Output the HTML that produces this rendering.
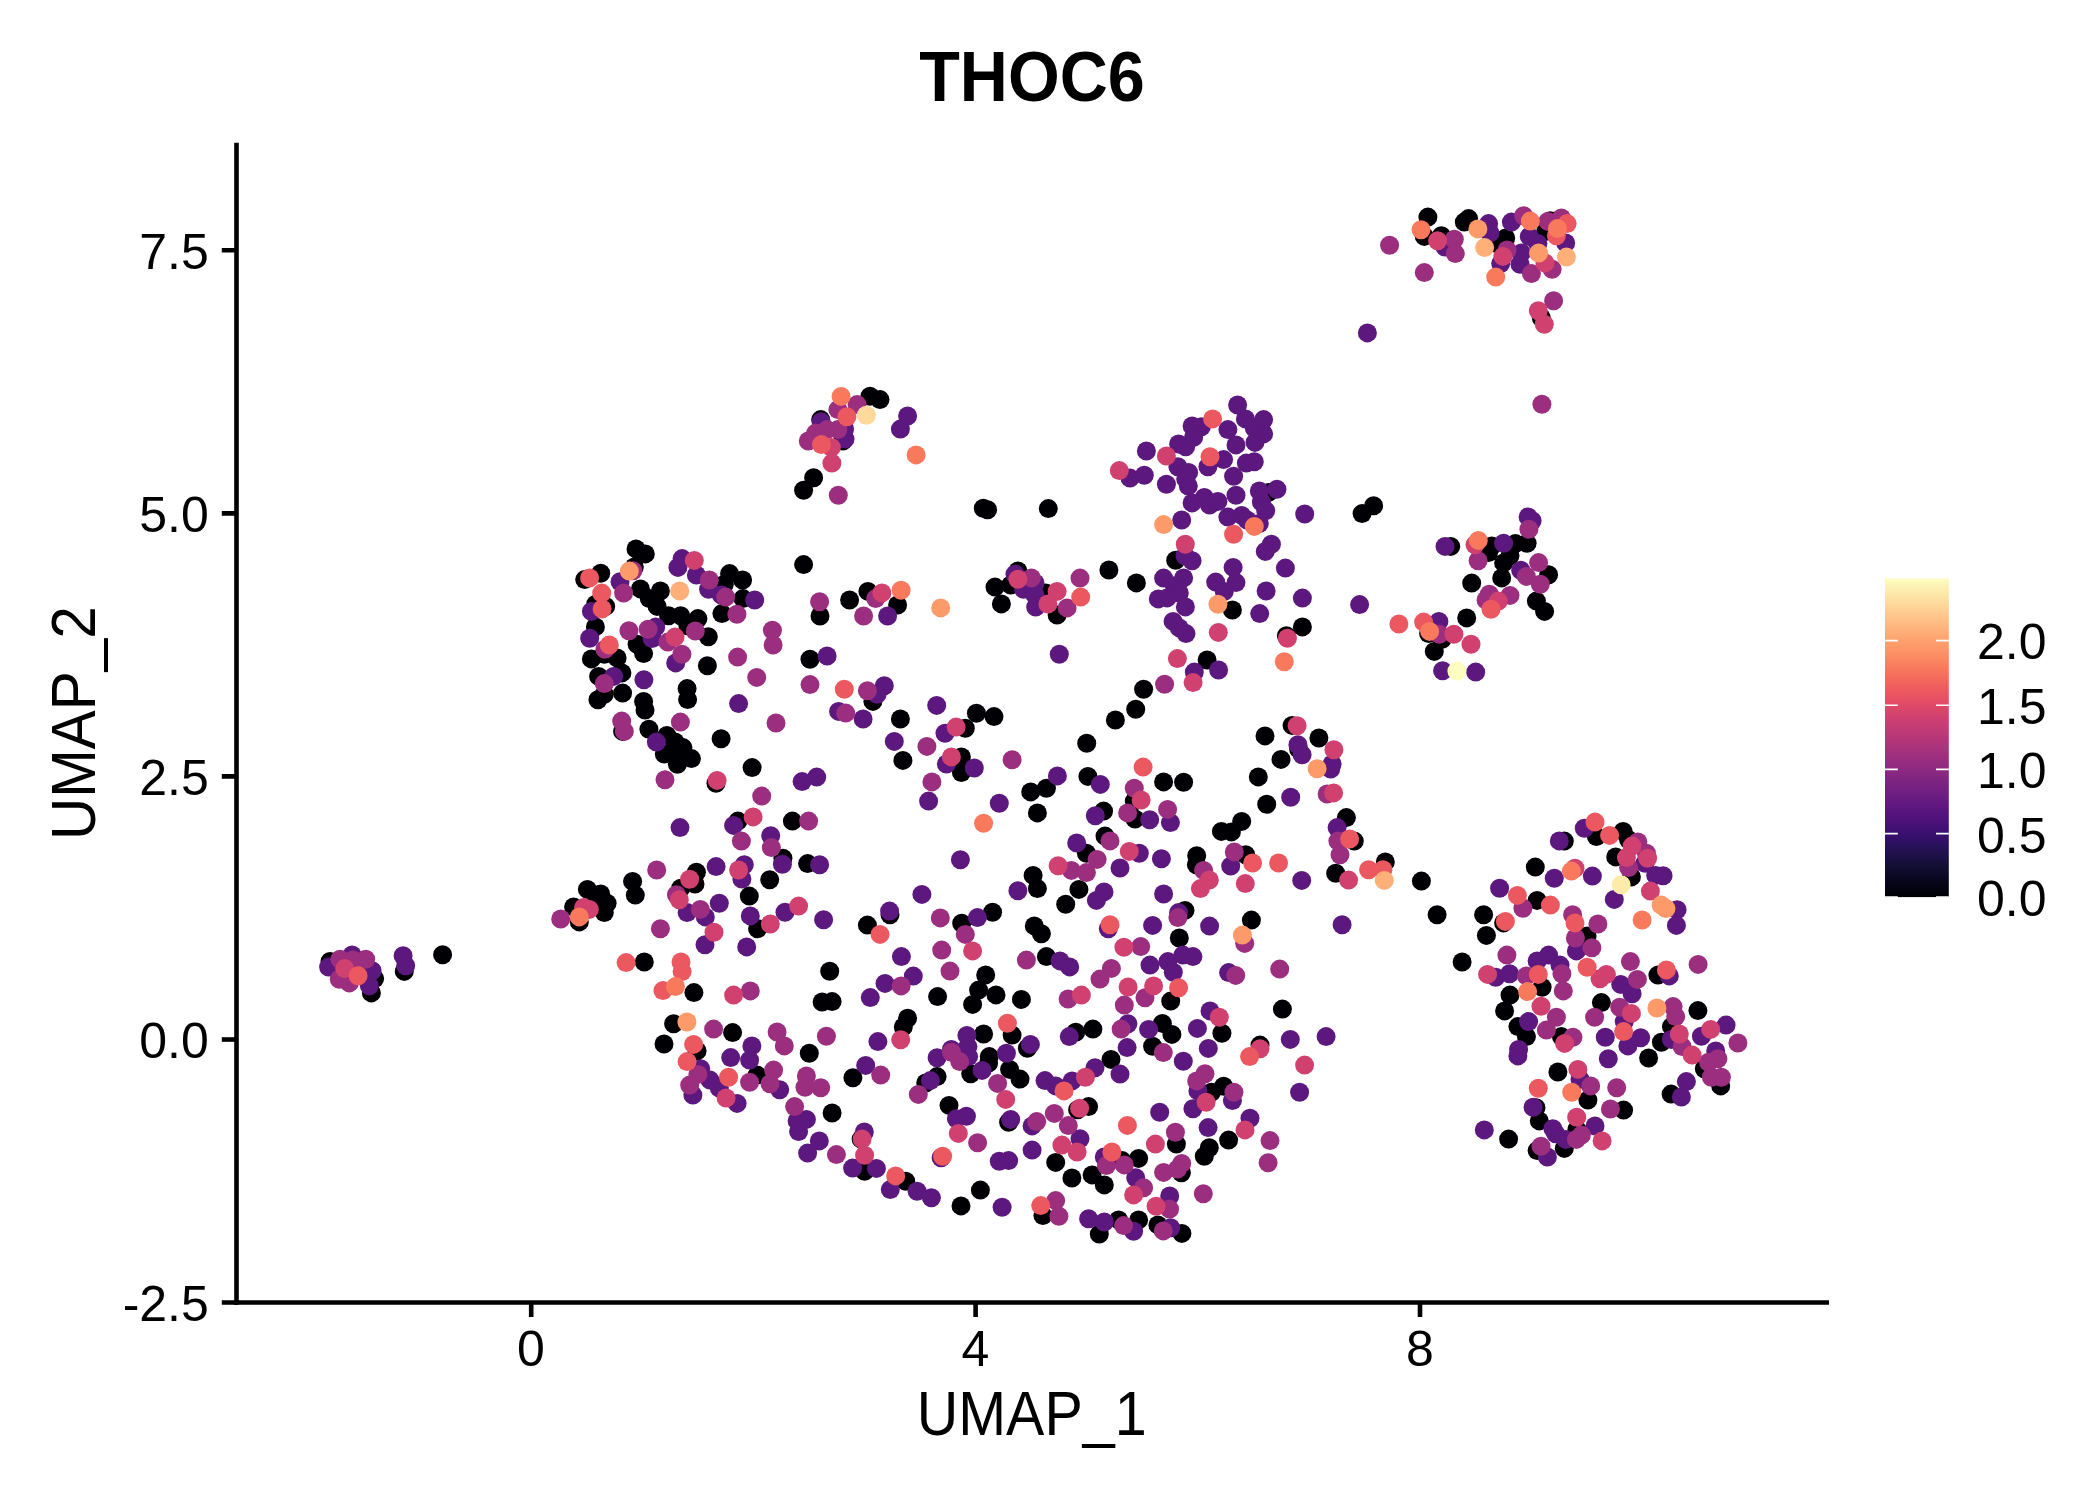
<!DOCTYPE html>
<html><head><meta charset="utf-8"><title>THOC6</title>
<style>
html,body{margin:0;padding:0;background:#fff;}
svg{display:block;}
text{font-family:"Liberation Sans",sans-serif;fill:#000;}
</style></head>
<body>
<svg width="2100" height="1500" viewBox="0 0 2100 1500">
<defs>
<linearGradient id="mg" x1="0" y1="1" x2="0" y2="0">
<stop offset="0" stop-color="#000004"/>
<stop offset="0.05" stop-color="#07061c"/>
<stop offset="0.1" stop-color="#140e36"/>
<stop offset="0.15" stop-color="#251255"/>
<stop offset="0.2" stop-color="#3b0f70"/>
<stop offset="0.25" stop-color="#51127c"/>
<stop offset="0.3" stop-color="#641a80"/>
<stop offset="0.35" stop-color="#782281"/>
<stop offset="0.4" stop-color="#8c2981"/>
<stop offset="0.45" stop-color="#a1307e"/>
<stop offset="0.5" stop-color="#b73779"/>
<stop offset="0.55" stop-color="#ca3e72"/>
<stop offset="0.6" stop-color="#de4968"/>
<stop offset="0.65" stop-color="#ed5a5f"/>
<stop offset="0.7" stop-color="#f7705c"/>
<stop offset="0.75" stop-color="#fc8961"/>
<stop offset="0.8" stop-color="#fe9f6d"/>
<stop offset="0.85" stop-color="#feb77e"/>
<stop offset="0.9" stop-color="#fecf92"/>
<stop offset="0.95" stop-color="#fde7a9"/>
<stop offset="1" stop-color="#fcfdbf"/>
</linearGradient>
</defs>
<rect width="2100" height="1500" fill="#fff"/>
<text x="919.2" y="100.8" font-size="70" font-weight="bold" textLength="225.5" lengthAdjust="spacingAndGlyphs">THOC6</text>
<g fill="#000004">
<circle cx="636.0" cy="548.9" r="9.5"/>
<circle cx="645.3" cy="553.9" r="9.5"/>
<circle cx="634.3" cy="566.9" r="9.5"/>
<circle cx="600.7" cy="573.3" r="9.5"/>
<circle cx="584.7" cy="579.6" r="9.5"/>
<circle cx="640.4" cy="588.9" r="9.5"/>
<circle cx="660.4" cy="591.0" r="9.5"/>
<circle cx="649.3" cy="598.6" r="9.5"/>
<circle cx="657.1" cy="606.4" r="9.5"/>
<circle cx="668.6" cy="615.7" r="9.5"/>
<circle cx="680.7" cy="615.7" r="9.5"/>
<circle cx="697.9" cy="618.6" r="9.5"/>
<circle cx="687.9" cy="625.7" r="9.5"/>
<circle cx="729.6" cy="573.6" r="9.5"/>
<circle cx="742.6" cy="580.0" r="9.5"/>
<circle cx="724.3" cy="584.3" r="9.5"/>
<circle cx="742.9" cy="598.6" r="9.5"/>
<circle cx="721.9" cy="613.6" r="9.5"/>
<circle cx="803.6" cy="564.6" r="9.5"/>
<circle cx="820.0" cy="616.0" r="9.5"/>
<circle cx="708.3" cy="636.7" r="9.5"/>
<circle cx="605.7" cy="606.4" r="9.5"/>
<circle cx="595.7" cy="604.3" r="9.5"/>
<circle cx="595.4" cy="626.9" r="9.5"/>
<circle cx="591.4" cy="658.9" r="9.5"/>
<circle cx="617.1" cy="657.9" r="9.5"/>
<circle cx="604.3" cy="654.3" r="9.5"/>
<circle cx="621.9" cy="672.9" r="9.5"/>
<circle cx="598.6" cy="676.4" r="9.5"/>
<circle cx="622.6" cy="693.1" r="9.5"/>
<circle cx="597.9" cy="699.7" r="9.5"/>
<circle cx="604.3" cy="694.3" r="9.5"/>
<circle cx="637.1" cy="644.3" r="9.5"/>
<circle cx="643.6" cy="653.6" r="9.5"/>
<circle cx="707.4" cy="665.7" r="9.5"/>
<circle cx="687.1" cy="688.6" r="9.5"/>
<circle cx="687.6" cy="699.6" r="9.5"/>
<circle cx="643.6" cy="701.4" r="9.5"/>
<circle cx="645.0" cy="710.0" r="9.5"/>
<circle cx="810.0" cy="659.3" r="9.5"/>
<circle cx="983.3" cy="508.3" r="9.5"/>
<circle cx="987.6" cy="509.7" r="9.5"/>
<circle cx="1048.3" cy="508.6" r="9.5"/>
<circle cx="849.6" cy="600.0" r="9.5"/>
<circle cx="867.9" cy="591.4" r="9.5"/>
<circle cx="897.6" cy="605.0" r="9.5"/>
<circle cx="995.0" cy="587.1" r="9.5"/>
<circle cx="1017.9" cy="571.0" r="9.5"/>
<circle cx="1010.7" cy="585.0" r="9.5"/>
<circle cx="1001.4" cy="603.9" r="9.5"/>
<circle cx="1045.7" cy="592.9" r="9.5"/>
<circle cx="1057.1" cy="615.0" r="9.5"/>
<circle cx="1108.9" cy="570.0" r="9.5"/>
<circle cx="1136.4" cy="582.9" r="9.5"/>
<circle cx="872.9" cy="701.4" r="9.5"/>
<circle cx="976.4" cy="713.3" r="9.5"/>
<circle cx="1135.7" cy="709.3" r="9.5"/>
<circle cx="1362.1" cy="513.6" r="9.5"/>
<circle cx="1373.6" cy="505.7" r="9.5"/>
<circle cx="1175.7" cy="560.3" r="9.5"/>
<circle cx="1232.4" cy="610.0" r="9.5"/>
<circle cx="1302.4" cy="626.9" r="9.5"/>
<circle cx="1286.4" cy="635.7" r="9.5"/>
<circle cx="1207.1" cy="660.0" r="9.5"/>
<circle cx="1143.6" cy="689.3" r="9.5"/>
<circle cx="1428.6" cy="633.6" r="9.5"/>
<circle cx="1434.3" cy="651.4" r="9.5"/>
<circle cx="1450.7" cy="546.4" r="9.5"/>
<circle cx="1491.7" cy="546.0" r="9.5"/>
<circle cx="1488.6" cy="552.6" r="9.5"/>
<circle cx="1515.4" cy="543.6" r="9.5"/>
<circle cx="1527.1" cy="543.3" r="9.5"/>
<circle cx="1510.0" cy="555.7" r="9.5"/>
<circle cx="1503.6" cy="562.9" r="9.5"/>
<circle cx="1501.7" cy="577.9" r="9.5"/>
<circle cx="1471.7" cy="583.1" r="9.5"/>
<circle cx="1548.6" cy="574.7" r="9.5"/>
<circle cx="1536.4" cy="601.1" r="9.5"/>
<circle cx="1544.6" cy="611.4" r="9.5"/>
<circle cx="1466.7" cy="617.9" r="9.5"/>
<circle cx="1442.1" cy="639.3" r="9.5"/>
<circle cx="622.6" cy="731.4" r="9.5"/>
<circle cx="648.9" cy="729.3" r="9.5"/>
<circle cx="666.9" cy="735.4" r="9.5"/>
<circle cx="675.0" cy="741.9" r="9.5"/>
<circle cx="682.9" cy="747.6" r="9.5"/>
<circle cx="664.3" cy="754.0" r="9.5"/>
<circle cx="676.4" cy="755.4" r="9.5"/>
<circle cx="691.4" cy="758.6" r="9.5"/>
<circle cx="677.4" cy="764.3" r="9.5"/>
<circle cx="721.1" cy="738.7" r="9.5"/>
<circle cx="752.1" cy="767.6" r="9.5"/>
<circle cx="716.0" cy="783.3" r="9.5"/>
<circle cx="737.9" cy="821.1" r="9.5"/>
<circle cx="792.4" cy="821.1" r="9.5"/>
<circle cx="782.9" cy="858.3" r="9.5"/>
<circle cx="807.6" cy="863.6" r="9.5"/>
<circle cx="696.4" cy="872.3" r="9.5"/>
<circle cx="695.0" cy="884.0" r="9.5"/>
<circle cx="680.7" cy="888.3" r="9.5"/>
<circle cx="769.7" cy="879.7" r="9.5"/>
<circle cx="749.3" cy="896.1" r="9.5"/>
<circle cx="632.6" cy="881.4" r="9.5"/>
<circle cx="635.3" cy="895.1" r="9.5"/>
<circle cx="587.4" cy="889.4" r="9.5"/>
<circle cx="600.7" cy="894.0" r="9.5"/>
<circle cx="607.1" cy="903.3" r="9.5"/>
<circle cx="604.3" cy="912.6" r="9.5"/>
<circle cx="597.1" cy="899.7" r="9.5"/>
<circle cx="573.6" cy="906.9" r="9.5"/>
<circle cx="579.3" cy="921.9" r="9.5"/>
<circle cx="900.4" cy="719.0" r="9.5"/>
<circle cx="994.0" cy="716.6" r="9.5"/>
<circle cx="1115.4" cy="720.0" r="9.5"/>
<circle cx="965.3" cy="728.3" r="9.5"/>
<circle cx="902.9" cy="760.4" r="9.5"/>
<circle cx="961.4" cy="756.9" r="9.5"/>
<circle cx="961.4" cy="772.6" r="9.5"/>
<circle cx="1086.7" cy="743.3" r="9.5"/>
<circle cx="1087.9" cy="776.4" r="9.5"/>
<circle cx="1030.7" cy="791.9" r="9.5"/>
<circle cx="1046.4" cy="788.3" r="9.5"/>
<circle cx="1037.4" cy="812.9" r="9.5"/>
<circle cx="1103.6" cy="811.1" r="9.5"/>
<circle cx="1134.3" cy="801.1" r="9.5"/>
<circle cx="1135.0" cy="819.0" r="9.5"/>
<circle cx="1105.0" cy="836.1" r="9.5"/>
<circle cx="1086.4" cy="853.3" r="9.5"/>
<circle cx="1033.1" cy="875.4" r="9.5"/>
<circle cx="1037.4" cy="888.6" r="9.5"/>
<circle cx="1078.9" cy="889.4" r="9.5"/>
<circle cx="1065.7" cy="904.3" r="9.5"/>
<circle cx="992.6" cy="912.3" r="9.5"/>
<circle cx="890.0" cy="914.7" r="9.5"/>
<circle cx="867.4" cy="925.1" r="9.5"/>
<circle cx="961.7" cy="923.3" r="9.5"/>
<circle cx="1034.3" cy="925.9" r="9.5"/>
<circle cx="1163.6" cy="781.9" r="9.5"/>
<circle cx="1183.6" cy="782.3" r="9.5"/>
<circle cx="1265.0" cy="735.9" r="9.5"/>
<circle cx="1292.1" cy="725.4" r="9.5"/>
<circle cx="1318.9" cy="738.0" r="9.5"/>
<circle cx="1298.6" cy="749.0" r="9.5"/>
<circle cx="1281.0" cy="759.4" r="9.5"/>
<circle cx="1258.3" cy="776.9" r="9.5"/>
<circle cx="1266.7" cy="804.3" r="9.5"/>
<circle cx="1241.7" cy="821.4" r="9.5"/>
<circle cx="1221.4" cy="831.4" r="9.5"/>
<circle cx="1231.4" cy="831.9" r="9.5"/>
<circle cx="1346.4" cy="817.6" r="9.5"/>
<circle cx="1354.3" cy="841.1" r="9.5"/>
<circle cx="1196.7" cy="855.7" r="9.5"/>
<circle cx="1196.4" cy="864.7" r="9.5"/>
<circle cx="1245.7" cy="854.7" r="9.5"/>
<circle cx="1385.3" cy="861.9" r="9.5"/>
<circle cx="1335.7" cy="873.3" r="9.5"/>
<circle cx="1421.4" cy="881.1" r="9.5"/>
<circle cx="1185.0" cy="910.4" r="9.5"/>
<circle cx="1251.4" cy="920.1" r="9.5"/>
<circle cx="1437.1" cy="914.7" r="9.5"/>
<circle cx="1564.3" cy="841.1" r="9.5"/>
<circle cx="1623.1" cy="831.4" r="9.5"/>
<circle cx="1596.4" cy="836.6" r="9.5"/>
<circle cx="1628.6" cy="839.7" r="9.5"/>
<circle cx="1615.7" cy="856.9" r="9.5"/>
<circle cx="1535.3" cy="867.1" r="9.5"/>
<circle cx="1631.4" cy="876.9" r="9.5"/>
<circle cx="1537.1" cy="900.4" r="9.5"/>
<circle cx="1483.6" cy="914.7" r="9.5"/>
<circle cx="1503.6" cy="922.9" r="9.5"/>
<circle cx="757.6" cy="928.7" r="9.5"/>
<circle cx="644.3" cy="962.0" r="9.5"/>
<circle cx="693.9" cy="992.6" r="9.5"/>
<circle cx="829.7" cy="971.3" r="9.5"/>
<circle cx="822.1" cy="1002.0" r="9.5"/>
<circle cx="832.1" cy="1001.6" r="9.5"/>
<circle cx="673.6" cy="1023.7" r="9.5"/>
<circle cx="664.0" cy="1044.0" r="9.5"/>
<circle cx="732.6" cy="1032.6" r="9.5"/>
<circle cx="697.1" cy="1050.9" r="9.5"/>
<circle cx="809.3" cy="1053.3" r="9.5"/>
<circle cx="757.1" cy="1075.1" r="9.5"/>
<circle cx="832.1" cy="1113.0" r="9.5"/>
<circle cx="1041.4" cy="933.7" r="9.5"/>
<circle cx="985.7" cy="974.9" r="9.5"/>
<circle cx="978.6" cy="990.1" r="9.5"/>
<circle cx="996.0" cy="994.9" r="9.5"/>
<circle cx="972.6" cy="1004.4" r="9.5"/>
<circle cx="937.6" cy="996.6" r="9.5"/>
<circle cx="1021.4" cy="999.4" r="9.5"/>
<circle cx="907.6" cy="1018.3" r="9.5"/>
<circle cx="903.3" cy="1026.9" r="9.5"/>
<circle cx="983.6" cy="1034.0" r="9.5"/>
<circle cx="1012.1" cy="1035.1" r="9.5"/>
<circle cx="1027.4" cy="1048.3" r="9.5"/>
<circle cx="1075.7" cy="1032.3" r="9.5"/>
<circle cx="1092.9" cy="1029.1" r="9.5"/>
<circle cx="989.3" cy="1056.6" r="9.5"/>
<circle cx="988.6" cy="1063.0" r="9.5"/>
<circle cx="1009.6" cy="1069.4" r="9.5"/>
<circle cx="1020.0" cy="1079.1" r="9.5"/>
<circle cx="970.7" cy="1073.7" r="9.5"/>
<circle cx="1111.0" cy="1059.4" r="9.5"/>
<circle cx="937.1" cy="1076.6" r="9.5"/>
<circle cx="925.7" cy="1083.0" r="9.5"/>
<circle cx="852.9" cy="1077.7" r="9.5"/>
<circle cx="949.0" cy="1105.4" r="9.5"/>
<circle cx="1046.4" cy="956.6" r="9.5"/>
<circle cx="1088.6" cy="1106.6" r="9.5"/>
<circle cx="1077.6" cy="1109.7" r="9.5"/>
<circle cx="1008.6" cy="1122.3" r="9.5"/>
<circle cx="861.1" cy="1139.1" r="9.5"/>
<circle cx="1179.3" cy="938.0" r="9.5"/>
<circle cx="1170.7" cy="1001.1" r="9.5"/>
<circle cx="1282.4" cy="1009.1" r="9.5"/>
<circle cx="1162.4" cy="1023.4" r="9.5"/>
<circle cx="1171.9" cy="1034.4" r="9.5"/>
<circle cx="1152.6" cy="1046.3" r="9.5"/>
<circle cx="1221.9" cy="1033.3" r="9.5"/>
<circle cx="1260.0" cy="1045.1" r="9.5"/>
<circle cx="1223.6" cy="1086.3" r="9.5"/>
<circle cx="1211.4" cy="1092.3" r="9.5"/>
<circle cx="1228.6" cy="1140.1" r="9.5"/>
<circle cx="1486.4" cy="935.4" r="9.5"/>
<circle cx="1587.1" cy="935.9" r="9.5"/>
<circle cx="1462.1" cy="962.0" r="9.5"/>
<circle cx="1657.9" cy="975.1" r="9.5"/>
<circle cx="1510.0" cy="995.1" r="9.5"/>
<circle cx="1504.6" cy="1010.9" r="9.5"/>
<circle cx="1542.1" cy="987.3" r="9.5"/>
<circle cx="1601.4" cy="1002.6" r="9.5"/>
<circle cx="1697.9" cy="1010.6" r="9.5"/>
<circle cx="1517.9" cy="1026.6" r="9.5"/>
<circle cx="1526.4" cy="1036.6" r="9.5"/>
<circle cx="1561.4" cy="1036.6" r="9.5"/>
<circle cx="1671.4" cy="1026.6" r="9.5"/>
<circle cx="1661.4" cy="1042.3" r="9.5"/>
<circle cx="1648.6" cy="1058.0" r="9.5"/>
<circle cx="1557.9" cy="1072.0" r="9.5"/>
<circle cx="1704.3" cy="1068.7" r="9.5"/>
<circle cx="1720.7" cy="1085.9" r="9.5"/>
<circle cx="1671.1" cy="1094.1" r="9.5"/>
<circle cx="1587.9" cy="1100.1" r="9.5"/>
<circle cx="1623.6" cy="1110.1" r="9.5"/>
<circle cx="1536.0" cy="1107.7" r="9.5"/>
<circle cx="1539.3" cy="1120.9" r="9.5"/>
<circle cx="1508.6" cy="1139.1" r="9.5"/>
<circle cx="1576.9" cy="1129.4" r="9.5"/>
<circle cx="813.6" cy="477.7" r="9.5"/>
<circle cx="803.6" cy="490.3" r="9.5"/>
<circle cx="820.7" cy="419.6" r="9.5"/>
<circle cx="870.0" cy="396.3" r="9.5"/>
<circle cx="880.0" cy="399.6" r="9.5"/>
<circle cx="842.9" cy="441.0" r="9.5"/>
<circle cx="1268.6" cy="492.4" r="9.5"/>
<circle cx="1427.9" cy="217.1" r="9.5"/>
<circle cx="1424.3" cy="236.4" r="9.5"/>
<circle cx="1441.4" cy="235.7" r="9.5"/>
<circle cx="1464.3" cy="222.1" r="9.5"/>
<circle cx="1468.6" cy="218.6" r="9.5"/>
<circle cx="1505.7" cy="237.9" r="9.5"/>
<circle cx="1496.4" cy="243.6" r="9.5"/>
<circle cx="1545.7" cy="231.4" r="9.5"/>
<circle cx="1550.3" cy="220.7" r="9.5"/>
<circle cx="1541.4" cy="317.9" r="9.5"/>
<circle cx="330.0" cy="961.4" r="9.5"/>
<circle cx="442.6" cy="954.7" r="9.5"/>
<circle cx="404.3" cy="971.4" r="9.5"/>
<circle cx="371.4" cy="992.9" r="9.5"/>
<circle cx="374.6" cy="978.6" r="9.5"/>
<circle cx="864.6" cy="1171.3" r="9.5"/>
<circle cx="905.7" cy="1181.3" r="9.5"/>
<circle cx="980.4" cy="1190.1" r="9.5"/>
<circle cx="961.0" cy="1205.9" r="9.5"/>
<circle cx="1055.7" cy="1162.4" r="9.5"/>
<circle cx="1071.9" cy="1178.0" r="9.5"/>
<circle cx="1092.1" cy="1174.9" r="9.5"/>
<circle cx="1104.3" cy="1184.9" r="9.5"/>
<circle cx="1122.1" cy="1160.6" r="9.5"/>
<circle cx="1138.6" cy="1158.4" r="9.5"/>
<circle cx="1042.9" cy="1215.6" r="9.5"/>
<circle cx="1099.3" cy="1234.1" r="9.5"/>
<circle cx="1118.6" cy="1219.9" r="9.5"/>
<circle cx="1138.6" cy="1219.9" r="9.5"/>
<circle cx="1176.4" cy="1144.1" r="9.5"/>
<circle cx="1209.3" cy="1147.7" r="9.5"/>
<circle cx="1204.3" cy="1156.3" r="9.5"/>
<circle cx="1181.4" cy="1172.7" r="9.5"/>
<circle cx="1157.9" cy="1224.9" r="9.5"/>
<circle cx="1181.9" cy="1233.4" r="9.5"/>
<circle cx="1537.1" cy="1150.6" r="9.5"/>
<circle cx="1564.3" cy="1148.4" r="9.5"/>
</g>
<g fill="#5c187e">
<circle cx="682.1" cy="558.6" r="9.5"/>
<circle cx="677.9" cy="567.4" r="9.5"/>
<circle cx="696.4" cy="575.0" r="9.5"/>
<circle cx="708.6" cy="589.3" r="9.5"/>
<circle cx="721.4" cy="595.0" r="9.5"/>
<circle cx="620.0" cy="581.7" r="9.5"/>
<circle cx="754.7" cy="600.0" r="9.5"/>
<circle cx="591.4" cy="611.4" r="9.5"/>
<circle cx="589.7" cy="638.3" r="9.5"/>
<circle cx="655.7" cy="627.1" r="9.5"/>
<circle cx="652.1" cy="638.6" r="9.5"/>
<circle cx="675.7" cy="662.9" r="9.5"/>
<circle cx="613.6" cy="676.4" r="9.5"/>
<circle cx="643.9" cy="679.7" r="9.5"/>
<circle cx="827.1" cy="656.0" r="9.5"/>
<circle cx="738.6" cy="703.6" r="9.5"/>
<circle cx="838.6" cy="711.4" r="9.5"/>
<circle cx="1015.0" cy="574.3" r="9.5"/>
<circle cx="1035.0" cy="582.9" r="9.5"/>
<circle cx="1023.6" cy="589.3" r="9.5"/>
<circle cx="1035.0" cy="595.0" r="9.5"/>
<circle cx="1035.7" cy="607.1" r="9.5"/>
<circle cx="887.6" cy="616.0" r="9.5"/>
<circle cx="1059.3" cy="654.3" r="9.5"/>
<circle cx="884.3" cy="685.7" r="9.5"/>
<circle cx="877.1" cy="694.3" r="9.5"/>
<circle cx="936.7" cy="705.4" r="9.5"/>
<circle cx="1192.1" cy="502.9" r="9.5"/>
<circle cx="1209.6" cy="505.0" r="9.5"/>
<circle cx="1217.9" cy="501.4" r="9.5"/>
<circle cx="1227.9" cy="517.1" r="9.5"/>
<circle cx="1241.7" cy="515.4" r="9.5"/>
<circle cx="1247.1" cy="520.0" r="9.5"/>
<circle cx="1261.4" cy="502.1" r="9.5"/>
<circle cx="1265.7" cy="510.7" r="9.5"/>
<circle cx="1259.3" cy="523.6" r="9.5"/>
<circle cx="1181.7" cy="520.0" r="9.5"/>
<circle cx="1304.7" cy="514.0" r="9.5"/>
<circle cx="1271.4" cy="544.3" r="9.5"/>
<circle cx="1265.3" cy="551.4" r="9.5"/>
<circle cx="1185.0" cy="555.7" r="9.5"/>
<circle cx="1192.1" cy="560.7" r="9.5"/>
<circle cx="1233.1" cy="567.4" r="9.5"/>
<circle cx="1285.4" cy="568.1" r="9.5"/>
<circle cx="1163.6" cy="578.1" r="9.5"/>
<circle cx="1183.6" cy="577.9" r="9.5"/>
<circle cx="1174.3" cy="585.7" r="9.5"/>
<circle cx="1215.7" cy="582.1" r="9.5"/>
<circle cx="1236.0" cy="582.6" r="9.5"/>
<circle cx="1224.3" cy="591.4" r="9.5"/>
<circle cx="1266.1" cy="591.0" r="9.5"/>
<circle cx="1158.3" cy="598.9" r="9.5"/>
<circle cx="1167.1" cy="597.9" r="9.5"/>
<circle cx="1179.3" cy="592.9" r="9.5"/>
<circle cx="1185.4" cy="606.9" r="9.5"/>
<circle cx="1302.4" cy="598.1" r="9.5"/>
<circle cx="1259.7" cy="613.6" r="9.5"/>
<circle cx="1359.6" cy="604.6" r="9.5"/>
<circle cx="1173.1" cy="621.4" r="9.5"/>
<circle cx="1179.3" cy="627.9" r="9.5"/>
<circle cx="1186.0" cy="633.6" r="9.5"/>
<circle cx="1194.3" cy="672.1" r="9.5"/>
<circle cx="1218.6" cy="670.0" r="9.5"/>
<circle cx="1528.1" cy="516.9" r="9.5"/>
<circle cx="1532.1" cy="520.7" r="9.5"/>
<circle cx="1503.6" cy="543.3" r="9.5"/>
<circle cx="1445.0" cy="546.4" r="9.5"/>
<circle cx="1520.7" cy="570.3" r="9.5"/>
<circle cx="1438.9" cy="621.4" r="9.5"/>
<circle cx="1442.6" cy="670.7" r="9.5"/>
<circle cx="1475.7" cy="672.1" r="9.5"/>
<circle cx="656.4" cy="742.1" r="9.5"/>
<circle cx="802.1" cy="781.6" r="9.5"/>
<circle cx="816.7" cy="777.1" r="9.5"/>
<circle cx="680.0" cy="827.6" r="9.5"/>
<circle cx="733.6" cy="825.4" r="9.5"/>
<circle cx="770.7" cy="835.7" r="9.5"/>
<circle cx="716.1" cy="866.6" r="9.5"/>
<circle cx="744.3" cy="864.7" r="9.5"/>
<circle cx="741.9" cy="879.0" r="9.5"/>
<circle cx="782.4" cy="864.3" r="9.5"/>
<circle cx="819.6" cy="864.7" r="9.5"/>
<circle cx="719.3" cy="903.3" r="9.5"/>
<circle cx="687.1" cy="912.6" r="9.5"/>
<circle cx="705.3" cy="916.9" r="9.5"/>
<circle cx="750.3" cy="915.9" r="9.5"/>
<circle cx="785.0" cy="912.3" r="9.5"/>
<circle cx="823.6" cy="919.7" r="9.5"/>
<circle cx="863.1" cy="719.0" r="9.5"/>
<circle cx="894.3" cy="741.4" r="9.5"/>
<circle cx="945.0" cy="733.3" r="9.5"/>
<circle cx="946.4" cy="764.0" r="9.5"/>
<circle cx="974.3" cy="768.0" r="9.5"/>
<circle cx="928.6" cy="801.1" r="9.5"/>
<circle cx="999.3" cy="803.3" r="9.5"/>
<circle cx="1057.4" cy="775.9" r="9.5"/>
<circle cx="1100.3" cy="784.4" r="9.5"/>
<circle cx="1095.3" cy="815.7" r="9.5"/>
<circle cx="1076.7" cy="843.0" r="9.5"/>
<circle cx="960.4" cy="859.7" r="9.5"/>
<circle cx="1120.0" cy="868.0" r="9.5"/>
<circle cx="1017.9" cy="890.7" r="9.5"/>
<circle cx="921.9" cy="894.4" r="9.5"/>
<circle cx="1104.0" cy="891.9" r="9.5"/>
<circle cx="1096.4" cy="900.4" r="9.5"/>
<circle cx="889.6" cy="911.1" r="9.5"/>
<circle cx="977.4" cy="917.6" r="9.5"/>
<circle cx="1297.9" cy="744.7" r="9.5"/>
<circle cx="1302.1" cy="754.7" r="9.5"/>
<circle cx="1332.1" cy="764.0" r="9.5"/>
<circle cx="1330.7" cy="769.0" r="9.5"/>
<circle cx="1290.7" cy="797.3" r="9.5"/>
<circle cx="1149.7" cy="819.7" r="9.5"/>
<circle cx="1170.4" cy="822.6" r="9.5"/>
<circle cx="1337.1" cy="827.6" r="9.5"/>
<circle cx="1139.3" cy="853.3" r="9.5"/>
<circle cx="1161.4" cy="858.7" r="9.5"/>
<circle cx="1230.7" cy="866.1" r="9.5"/>
<circle cx="1301.7" cy="880.4" r="9.5"/>
<circle cx="1163.6" cy="894.0" r="9.5"/>
<circle cx="1178.6" cy="912.6" r="9.5"/>
<circle cx="1152.6" cy="925.4" r="9.5"/>
<circle cx="1209.6" cy="926.1" r="9.5"/>
<circle cx="1342.1" cy="924.7" r="9.5"/>
<circle cx="1584.3" cy="828.3" r="9.5"/>
<circle cx="1559.3" cy="840.9" r="9.5"/>
<circle cx="1554.3" cy="878.3" r="9.5"/>
<circle cx="1592.4" cy="876.1" r="9.5"/>
<circle cx="1499.6" cy="888.3" r="9.5"/>
<circle cx="1645.0" cy="863.3" r="9.5"/>
<circle cx="1655.7" cy="875.4" r="9.5"/>
<circle cx="1663.1" cy="875.7" r="9.5"/>
<circle cx="1614.3" cy="899.4" r="9.5"/>
<circle cx="1677.1" cy="909.7" r="9.5"/>
<circle cx="1676.4" cy="925.4" r="9.5"/>
<circle cx="705.0" cy="944.7" r="9.5"/>
<circle cx="746.7" cy="946.9" r="9.5"/>
<circle cx="751.9" cy="1045.9" r="9.5"/>
<circle cx="730.7" cy="1057.6" r="9.5"/>
<circle cx="749.6" cy="1060.1" r="9.5"/>
<circle cx="700.7" cy="1068.7" r="9.5"/>
<circle cx="710.0" cy="1080.1" r="9.5"/>
<circle cx="719.3" cy="1088.0" r="9.5"/>
<circle cx="692.9" cy="1095.1" r="9.5"/>
<circle cx="737.1" cy="1103.4" r="9.5"/>
<circle cx="779.7" cy="1089.7" r="9.5"/>
<circle cx="797.1" cy="1120.9" r="9.5"/>
<circle cx="806.4" cy="1119.4" r="9.5"/>
<circle cx="798.6" cy="1131.6" r="9.5"/>
<circle cx="819.3" cy="1140.9" r="9.5"/>
<circle cx="1108.3" cy="928.7" r="9.5"/>
<circle cx="901.4" cy="956.6" r="9.5"/>
<circle cx="913.3" cy="976.1" r="9.5"/>
<circle cx="885.0" cy="983.4" r="9.5"/>
<circle cx="870.3" cy="997.6" r="9.5"/>
<circle cx="1060.0" cy="960.9" r="9.5"/>
<circle cx="1069.7" cy="966.9" r="9.5"/>
<circle cx="877.9" cy="1041.6" r="9.5"/>
<circle cx="966.9" cy="1035.4" r="9.5"/>
<circle cx="967.9" cy="1046.6" r="9.5"/>
<circle cx="968.6" cy="1056.6" r="9.5"/>
<circle cx="951.4" cy="1049.4" r="9.5"/>
<circle cx="937.1" cy="1057.7" r="9.5"/>
<circle cx="1030.4" cy="1044.4" r="9.5"/>
<circle cx="1006.4" cy="1053.3" r="9.5"/>
<circle cx="982.1" cy="1070.4" r="9.5"/>
<circle cx="1069.3" cy="1036.6" r="9.5"/>
<circle cx="1127.9" cy="1023.7" r="9.5"/>
<circle cx="1127.1" cy="1047.6" r="9.5"/>
<circle cx="865.7" cy="1065.4" r="9.5"/>
<circle cx="930.4" cy="1080.6" r="9.5"/>
<circle cx="1095.0" cy="1067.7" r="9.5"/>
<circle cx="1120.0" cy="1074.1" r="9.5"/>
<circle cx="1045.0" cy="1080.6" r="9.5"/>
<circle cx="1055.7" cy="1085.9" r="9.5"/>
<circle cx="1072.1" cy="1080.9" r="9.5"/>
<circle cx="956.4" cy="1118.7" r="9.5"/>
<circle cx="966.4" cy="1116.3" r="9.5"/>
<circle cx="1010.7" cy="1119.4" r="9.5"/>
<circle cx="1032.1" cy="1125.9" r="9.5"/>
<circle cx="864.3" cy="1132.0" r="9.5"/>
<circle cx="1080.0" cy="1138.7" r="9.5"/>
<circle cx="1150.0" cy="965.1" r="9.5"/>
<circle cx="1167.9" cy="961.6" r="9.5"/>
<circle cx="1182.9" cy="955.1" r="9.5"/>
<circle cx="1192.9" cy="956.6" r="9.5"/>
<circle cx="1173.3" cy="972.3" r="9.5"/>
<circle cx="1228.6" cy="972.6" r="9.5"/>
<circle cx="1210.0" cy="1010.9" r="9.5"/>
<circle cx="1148.6" cy="1029.4" r="9.5"/>
<circle cx="1197.4" cy="1028.4" r="9.5"/>
<circle cx="1208.3" cy="1048.4" r="9.5"/>
<circle cx="1183.3" cy="1061.3" r="9.5"/>
<circle cx="1290.3" cy="1039.4" r="9.5"/>
<circle cx="1326.1" cy="1036.6" r="9.5"/>
<circle cx="1299.6" cy="1092.3" r="9.5"/>
<circle cx="1197.9" cy="1090.9" r="9.5"/>
<circle cx="1192.9" cy="1108.7" r="9.5"/>
<circle cx="1232.4" cy="1100.6" r="9.5"/>
<circle cx="1159.7" cy="1112.3" r="9.5"/>
<circle cx="1250.0" cy="1118.3" r="9.5"/>
<circle cx="1208.1" cy="1127.6" r="9.5"/>
<circle cx="1537.1" cy="960.9" r="9.5"/>
<circle cx="1548.6" cy="955.1" r="9.5"/>
<circle cx="1560.0" cy="965.1" r="9.5"/>
<circle cx="1576.4" cy="950.9" r="9.5"/>
<circle cx="1495.7" cy="977.3" r="9.5"/>
<circle cx="1509.6" cy="973.7" r="9.5"/>
<circle cx="1620.7" cy="984.4" r="9.5"/>
<circle cx="1632.1" cy="993.7" r="9.5"/>
<circle cx="1669.3" cy="975.9" r="9.5"/>
<circle cx="1528.6" cy="1021.6" r="9.5"/>
<circle cx="1624.3" cy="1021.6" r="9.5"/>
<circle cx="1605.3" cy="1037.3" r="9.5"/>
<circle cx="1627.9" cy="1045.9" r="9.5"/>
<circle cx="1640.7" cy="1037.7" r="9.5"/>
<circle cx="1518.6" cy="1049.4" r="9.5"/>
<circle cx="1517.9" cy="1055.9" r="9.5"/>
<circle cx="1608.3" cy="1058.7" r="9.5"/>
<circle cx="1726.1" cy="1025.1" r="9.5"/>
<circle cx="1701.4" cy="1036.3" r="9.5"/>
<circle cx="1715.7" cy="1050.9" r="9.5"/>
<circle cx="1671.4" cy="1039.4" r="9.5"/>
<circle cx="1580.0" cy="1079.4" r="9.5"/>
<circle cx="1686.4" cy="1081.6" r="9.5"/>
<circle cx="1681.4" cy="1097.0" r="9.5"/>
<circle cx="1533.1" cy="1107.3" r="9.5"/>
<circle cx="1595.0" cy="1125.9" r="9.5"/>
<circle cx="1484.3" cy="1129.9" r="9.5"/>
<circle cx="1552.9" cy="1128.7" r="9.5"/>
<circle cx="1555.7" cy="1133.7" r="9.5"/>
<circle cx="1565.7" cy="1139.4" r="9.5"/>
<circle cx="821.1" cy="421.7" r="9.5"/>
<circle cx="907.6" cy="416.0" r="9.5"/>
<circle cx="900.4" cy="429.1" r="9.5"/>
<circle cx="844.6" cy="428.9" r="9.5"/>
<circle cx="845.0" cy="439.1" r="9.5"/>
<circle cx="1130.0" cy="478.1" r="9.5"/>
<circle cx="1367.4" cy="332.9" r="9.5"/>
<circle cx="1237.6" cy="405.0" r="9.5"/>
<circle cx="1245.4" cy="418.9" r="9.5"/>
<circle cx="1263.6" cy="419.6" r="9.5"/>
<circle cx="1254.3" cy="428.1" r="9.5"/>
<circle cx="1263.6" cy="433.9" r="9.5"/>
<circle cx="1255.0" cy="442.4" r="9.5"/>
<circle cx="1192.1" cy="426.0" r="9.5"/>
<circle cx="1201.4" cy="426.7" r="9.5"/>
<circle cx="1193.6" cy="437.4" r="9.5"/>
<circle cx="1227.9" cy="429.6" r="9.5"/>
<circle cx="1178.6" cy="443.9" r="9.5"/>
<circle cx="1185.7" cy="446.7" r="9.5"/>
<circle cx="1236.0" cy="444.9" r="9.5"/>
<circle cx="1146.4" cy="451.0" r="9.5"/>
<circle cx="1223.6" cy="459.6" r="9.5"/>
<circle cx="1246.4" cy="463.1" r="9.5"/>
<circle cx="1254.3" cy="461.7" r="9.5"/>
<circle cx="1177.9" cy="466.7" r="9.5"/>
<circle cx="1188.6" cy="472.4" r="9.5"/>
<circle cx="1185.7" cy="478.9" r="9.5"/>
<circle cx="1207.9" cy="466.7" r="9.5"/>
<circle cx="1144.3" cy="475.3" r="9.5"/>
<circle cx="1233.6" cy="476.3" r="9.5"/>
<circle cx="1166.4" cy="484.3" r="9.5"/>
<circle cx="1188.3" cy="486.0" r="9.5"/>
<circle cx="1259.3" cy="491.0" r="9.5"/>
<circle cx="1276.9" cy="489.3" r="9.5"/>
<circle cx="1236.0" cy="495.3" r="9.5"/>
<circle cx="1204.3" cy="497.4" r="9.5"/>
<circle cx="1488.6" cy="223.6" r="9.5"/>
<circle cx="1490.0" cy="232.9" r="9.5"/>
<circle cx="1511.4" cy="222.1" r="9.5"/>
<circle cx="1529.3" cy="236.4" r="9.5"/>
<circle cx="1537.9" cy="243.6" r="9.5"/>
<circle cx="1521.4" cy="252.9" r="9.5"/>
<circle cx="1520.0" cy="264.3" r="9.5"/>
<circle cx="1500.7" cy="263.6" r="9.5"/>
<circle cx="1565.7" cy="242.9" r="9.5"/>
<circle cx="1445.0" cy="247.1" r="9.5"/>
<circle cx="352.1" cy="955.0" r="9.5"/>
<circle cx="328.6" cy="967.1" r="9.5"/>
<circle cx="372.1" cy="970.7" r="9.5"/>
<circle cx="369.3" cy="985.7" r="9.5"/>
<circle cx="403.1" cy="955.7" r="9.5"/>
<circle cx="405.7" cy="965.7" r="9.5"/>
<circle cx="807.6" cy="1153.1" r="9.5"/>
<circle cx="1032.1" cy="1150.1" r="9.5"/>
<circle cx="852.6" cy="1168.1" r="9.5"/>
<circle cx="876.4" cy="1168.4" r="9.5"/>
<circle cx="890.3" cy="1189.6" r="9.5"/>
<circle cx="917.1" cy="1191.3" r="9.5"/>
<circle cx="931.4" cy="1197.7" r="9.5"/>
<circle cx="941.1" cy="1157.7" r="9.5"/>
<circle cx="999.3" cy="1161.3" r="9.5"/>
<circle cx="1008.6" cy="1160.6" r="9.5"/>
<circle cx="1002.1" cy="1207.3" r="9.5"/>
<circle cx="1088.6" cy="1218.7" r="9.5"/>
<circle cx="1104.3" cy="1222.0" r="9.5"/>
<circle cx="1104.3" cy="1157.0" r="9.5"/>
<circle cx="1135.7" cy="1177.7" r="9.5"/>
<circle cx="1133.6" cy="1231.3" r="9.5"/>
<circle cx="1169.7" cy="1196.0" r="9.5"/>
<circle cx="1170.7" cy="1227.7" r="9.5"/>
<circle cx="1547.4" cy="1157.0" r="9.5"/>
</g>
<g fill="#9c2e7f">
<circle cx="632.9" cy="570.7" r="9.5"/>
<circle cx="623.6" cy="593.1" r="9.5"/>
<circle cx="709.3" cy="580.0" r="9.5"/>
<circle cx="725.7" cy="597.1" r="9.5"/>
<circle cx="736.9" cy="614.3" r="9.5"/>
<circle cx="819.6" cy="601.7" r="9.5"/>
<circle cx="628.9" cy="630.7" r="9.5"/>
<circle cx="648.1" cy="629.3" r="9.5"/>
<circle cx="695.3" cy="631.0" r="9.5"/>
<circle cx="667.9" cy="642.1" r="9.5"/>
<circle cx="681.9" cy="654.3" r="9.5"/>
<circle cx="605.0" cy="649.3" r="9.5"/>
<circle cx="772.4" cy="630.3" r="9.5"/>
<circle cx="773.1" cy="645.0" r="9.5"/>
<circle cx="737.6" cy="657.1" r="9.5"/>
<circle cx="756.7" cy="677.4" r="9.5"/>
<circle cx="604.3" cy="683.6" r="9.5"/>
<circle cx="810.0" cy="684.6" r="9.5"/>
<circle cx="875.7" cy="598.6" r="9.5"/>
<circle cx="863.6" cy="616.0" r="9.5"/>
<circle cx="1031.4" cy="577.9" r="9.5"/>
<circle cx="1080.0" cy="578.1" r="9.5"/>
<circle cx="1067.1" cy="607.9" r="9.5"/>
<circle cx="867.4" cy="690.7" r="9.5"/>
<circle cx="845.7" cy="713.1" r="9.5"/>
<circle cx="1164.6" cy="684.3" r="9.5"/>
<circle cx="1528.9" cy="529.3" r="9.5"/>
<circle cx="1478.1" cy="560.7" r="9.5"/>
<circle cx="1538.6" cy="562.6" r="9.5"/>
<circle cx="1526.4" cy="576.4" r="9.5"/>
<circle cx="1540.3" cy="584.3" r="9.5"/>
<circle cx="1489.3" cy="594.3" r="9.5"/>
<circle cx="1486.0" cy="600.0" r="9.5"/>
<circle cx="1510.0" cy="595.4" r="9.5"/>
<circle cx="1439.3" cy="634.3" r="9.5"/>
<circle cx="621.7" cy="721.1" r="9.5"/>
<circle cx="624.3" cy="731.4" r="9.5"/>
<circle cx="680.4" cy="722.1" r="9.5"/>
<circle cx="776.0" cy="723.0" r="9.5"/>
<circle cx="665.0" cy="779.7" r="9.5"/>
<circle cx="761.7" cy="796.1" r="9.5"/>
<circle cx="808.6" cy="821.1" r="9.5"/>
<circle cx="741.4" cy="841.1" r="9.5"/>
<circle cx="771.4" cy="847.6" r="9.5"/>
<circle cx="656.7" cy="870.0" r="9.5"/>
<circle cx="676.4" cy="894.7" r="9.5"/>
<circle cx="700.3" cy="909.4" r="9.5"/>
<circle cx="560.7" cy="919.0" r="9.5"/>
<circle cx="926.9" cy="746.4" r="9.5"/>
<circle cx="1012.1" cy="759.7" r="9.5"/>
<circle cx="931.9" cy="781.9" r="9.5"/>
<circle cx="1134.3" cy="788.3" r="9.5"/>
<circle cx="1127.6" cy="812.9" r="9.5"/>
<circle cx="1110.0" cy="840.9" r="9.5"/>
<circle cx="1097.1" cy="859.4" r="9.5"/>
<circle cx="1071.4" cy="870.4" r="9.5"/>
<circle cx="1086.4" cy="872.6" r="9.5"/>
<circle cx="940.3" cy="917.9" r="9.5"/>
<circle cx="1167.6" cy="809.4" r="9.5"/>
<circle cx="1327.1" cy="794.0" r="9.5"/>
<circle cx="1234.3" cy="851.9" r="9.5"/>
<circle cx="1337.9" cy="841.1" r="9.5"/>
<circle cx="1340.0" cy="854.7" r="9.5"/>
<circle cx="1203.6" cy="870.4" r="9.5"/>
<circle cx="1177.9" cy="917.6" r="9.5"/>
<circle cx="1637.9" cy="841.9" r="9.5"/>
<circle cx="1646.4" cy="853.3" r="9.5"/>
<circle cx="1628.6" cy="867.6" r="9.5"/>
<circle cx="1522.9" cy="908.3" r="9.5"/>
<circle cx="1572.6" cy="914.7" r="9.5"/>
<circle cx="1597.9" cy="924.0" r="9.5"/>
<circle cx="660.4" cy="928.7" r="9.5"/>
<circle cx="750.3" cy="990.9" r="9.5"/>
<circle cx="713.6" cy="1029.1" r="9.5"/>
<circle cx="777.1" cy="1032.0" r="9.5"/>
<circle cx="784.3" cy="1045.9" r="9.5"/>
<circle cx="826.4" cy="1036.3" r="9.5"/>
<circle cx="697.9" cy="1074.4" r="9.5"/>
<circle cx="689.7" cy="1085.1" r="9.5"/>
<circle cx="773.6" cy="1070.1" r="9.5"/>
<circle cx="770.0" cy="1083.7" r="9.5"/>
<circle cx="749.6" cy="1082.3" r="9.5"/>
<circle cx="806.4" cy="1075.9" r="9.5"/>
<circle cx="805.0" cy="1087.3" r="9.5"/>
<circle cx="820.7" cy="1087.7" r="9.5"/>
<circle cx="794.6" cy="1106.6" r="9.5"/>
<circle cx="965.3" cy="934.4" r="9.5"/>
<circle cx="941.7" cy="950.1" r="9.5"/>
<circle cx="950.0" cy="971.1" r="9.5"/>
<circle cx="1026.4" cy="960.1" r="9.5"/>
<circle cx="901.1" cy="985.9" r="9.5"/>
<circle cx="1111.4" cy="968.4" r="9.5"/>
<circle cx="1100.0" cy="979.1" r="9.5"/>
<circle cx="1068.1" cy="999.0" r="9.5"/>
<circle cx="1124.3" cy="1005.1" r="9.5"/>
<circle cx="1121.1" cy="1029.1" r="9.5"/>
<circle cx="951.4" cy="1052.3" r="9.5"/>
<circle cx="959.7" cy="1061.6" r="9.5"/>
<circle cx="880.7" cy="1075.1" r="9.5"/>
<circle cx="997.6" cy="1083.4" r="9.5"/>
<circle cx="918.3" cy="1094.4" r="9.5"/>
<circle cx="1054.3" cy="1113.4" r="9.5"/>
<circle cx="1036.7" cy="1121.6" r="9.5"/>
<circle cx="1068.3" cy="1125.6" r="9.5"/>
<circle cx="1140.7" cy="946.6" r="9.5"/>
<circle cx="1244.7" cy="943.4" r="9.5"/>
<circle cx="1279.7" cy="969.1" r="9.5"/>
<circle cx="1235.7" cy="975.4" r="9.5"/>
<circle cx="1145.0" cy="997.7" r="9.5"/>
<circle cx="1163.3" cy="1052.6" r="9.5"/>
<circle cx="1205.0" cy="1073.7" r="9.5"/>
<circle cx="1196.7" cy="1080.9" r="9.5"/>
<circle cx="1233.9" cy="1092.3" r="9.5"/>
<circle cx="1175.4" cy="1132.3" r="9.5"/>
<circle cx="1270.0" cy="1140.6" r="9.5"/>
<circle cx="1506.9" cy="955.1" r="9.5"/>
<circle cx="1575.4" cy="938.0" r="9.5"/>
<circle cx="1591.9" cy="947.7" r="9.5"/>
<circle cx="1630.4" cy="961.6" r="9.5"/>
<circle cx="1698.1" cy="964.4" r="9.5"/>
<circle cx="1526.4" cy="975.9" r="9.5"/>
<circle cx="1561.9" cy="973.7" r="9.5"/>
<circle cx="1563.3" cy="990.9" r="9.5"/>
<circle cx="1637.4" cy="979.4" r="9.5"/>
<circle cx="1619.7" cy="1007.3" r="9.5"/>
<circle cx="1673.1" cy="1006.6" r="9.5"/>
<circle cx="1675.7" cy="1016.6" r="9.5"/>
<circle cx="1556.4" cy="1017.3" r="9.5"/>
<circle cx="1546.4" cy="1030.1" r="9.5"/>
<circle cx="1594.6" cy="1017.3" r="9.5"/>
<circle cx="1572.9" cy="1037.3" r="9.5"/>
<circle cx="1682.1" cy="1046.6" r="9.5"/>
<circle cx="1737.9" cy="1043.0" r="9.5"/>
<circle cx="1717.9" cy="1058.7" r="9.5"/>
<circle cx="1708.6" cy="1062.3" r="9.5"/>
<circle cx="1711.4" cy="1077.3" r="9.5"/>
<circle cx="1721.4" cy="1077.3" r="9.5"/>
<circle cx="1590.7" cy="1085.9" r="9.5"/>
<circle cx="1616.7" cy="1087.7" r="9.5"/>
<circle cx="1610.4" cy="1109.0" r="9.5"/>
<circle cx="1581.4" cy="1135.1" r="9.5"/>
<circle cx="1576.4" cy="1139.4" r="9.5"/>
<circle cx="837.9" cy="409.6" r="9.5"/>
<circle cx="815.7" cy="433.1" r="9.5"/>
<circle cx="827.1" cy="429.6" r="9.5"/>
<circle cx="808.3" cy="441.0" r="9.5"/>
<circle cx="838.3" cy="495.3" r="9.5"/>
<circle cx="857.1" cy="404.6" r="9.5"/>
<circle cx="837.9" cy="429.6" r="9.5"/>
<circle cx="1389.6" cy="245.3" r="9.5"/>
<circle cx="1424.3" cy="272.6" r="9.5"/>
<circle cx="1454.3" cy="239.3" r="9.5"/>
<circle cx="1455.3" cy="253.6" r="9.5"/>
<circle cx="1523.6" cy="215.7" r="9.5"/>
<circle cx="1547.9" cy="221.4" r="9.5"/>
<circle cx="1561.4" cy="217.9" r="9.5"/>
<circle cx="1507.1" cy="250.0" r="9.5"/>
<circle cx="1531.4" cy="273.6" r="9.5"/>
<circle cx="1552.1" cy="269.3" r="9.5"/>
<circle cx="1553.6" cy="300.7" r="9.5"/>
<circle cx="1541.9" cy="404.3" r="9.5"/>
<circle cx="340.0" cy="959.3" r="9.5"/>
<circle cx="365.7" cy="959.3" r="9.5"/>
<circle cx="352.9" cy="960.0" r="9.5"/>
<circle cx="339.3" cy="979.3" r="9.5"/>
<circle cx="349.3" cy="982.9" r="9.5"/>
<circle cx="836.4" cy="1154.6" r="9.5"/>
<circle cx="977.6" cy="1142.7" r="9.5"/>
<circle cx="1055.7" cy="1200.6" r="9.5"/>
<circle cx="1058.9" cy="1216.3" r="9.5"/>
<circle cx="1106.4" cy="1165.6" r="9.5"/>
<circle cx="1124.3" cy="1164.9" r="9.5"/>
<circle cx="1123.6" cy="1225.6" r="9.5"/>
<circle cx="1268.1" cy="1162.7" r="9.5"/>
<circle cx="1163.6" cy="1172.4" r="9.5"/>
<circle cx="1181.7" cy="1163.4" r="9.5"/>
<circle cx="1177.4" cy="1169.1" r="9.5"/>
<circle cx="1143.6" cy="1187.7" r="9.5"/>
<circle cx="1203.3" cy="1193.7" r="9.5"/>
<circle cx="1169.6" cy="1209.1" r="9.5"/>
<circle cx="1163.3" cy="1230.9" r="9.5"/>
<circle cx="1541.0" cy="1146.3" r="9.5"/>
</g>
<g fill="#d0416f">
<circle cx="694.3" cy="560.4" r="9.5"/>
<circle cx="675.0" cy="637.1" r="9.5"/>
<circle cx="881.9" cy="592.9" r="9.5"/>
<circle cx="1017.9" cy="579.3" r="9.5"/>
<circle cx="1057.1" cy="591.4" r="9.5"/>
<circle cx="1047.9" cy="604.0" r="9.5"/>
<circle cx="1185.3" cy="544.3" r="9.5"/>
<circle cx="1218.3" cy="632.4" r="9.5"/>
<circle cx="1287.4" cy="638.3" r="9.5"/>
<circle cx="1177.4" cy="658.6" r="9.5"/>
<circle cx="1193.1" cy="682.6" r="9.5"/>
<circle cx="1475.0" cy="544.7" r="9.5"/>
<circle cx="1498.3" cy="601.1" r="9.5"/>
<circle cx="1453.9" cy="634.3" r="9.5"/>
<circle cx="1471.0" cy="644.3" r="9.5"/>
<circle cx="717.1" cy="780.4" r="9.5"/>
<circle cx="753.1" cy="816.9" r="9.5"/>
<circle cx="738.6" cy="870.0" r="9.5"/>
<circle cx="689.6" cy="879.3" r="9.5"/>
<circle cx="679.3" cy="899.7" r="9.5"/>
<circle cx="583.6" cy="907.6" r="9.5"/>
<circle cx="589.3" cy="909.4" r="9.5"/>
<circle cx="798.6" cy="906.1" r="9.5"/>
<circle cx="770.3" cy="924.0" r="9.5"/>
<circle cx="956.1" cy="727.1" r="9.5"/>
<circle cx="951.4" cy="756.9" r="9.5"/>
<circle cx="1058.1" cy="865.7" r="9.5"/>
<circle cx="1129.3" cy="851.4" r="9.5"/>
<circle cx="1297.1" cy="725.7" r="9.5"/>
<circle cx="1333.9" cy="749.7" r="9.5"/>
<circle cx="1333.6" cy="792.9" r="9.5"/>
<circle cx="1141.1" cy="800.0" r="9.5"/>
<circle cx="1209.3" cy="880.0" r="9.5"/>
<circle cx="1200.4" cy="888.6" r="9.5"/>
<circle cx="1245.3" cy="883.6" r="9.5"/>
<circle cx="1348.6" cy="880.1" r="9.5"/>
<circle cx="1632.1" cy="846.1" r="9.5"/>
<circle cx="1626.4" cy="857.6" r="9.5"/>
<circle cx="1647.6" cy="858.3" r="9.5"/>
<circle cx="1575.0" cy="868.3" r="9.5"/>
<circle cx="1650.4" cy="891.1" r="9.5"/>
<circle cx="714.0" cy="932.3" r="9.5"/>
<circle cx="733.6" cy="995.1" r="9.5"/>
<circle cx="726.1" cy="1098.0" r="9.5"/>
<circle cx="972.6" cy="950.9" r="9.5"/>
<circle cx="1123.9" cy="947.3" r="9.5"/>
<circle cx="1128.1" cy="987.0" r="9.5"/>
<circle cx="1081.4" cy="995.1" r="9.5"/>
<circle cx="900.7" cy="1039.7" r="9.5"/>
<circle cx="1085.4" cy="1077.3" r="9.5"/>
<circle cx="1005.7" cy="1099.4" r="9.5"/>
<circle cx="1079.6" cy="1108.3" r="9.5"/>
<circle cx="958.3" cy="1133.4" r="9.5"/>
<circle cx="862.1" cy="1139.1" r="9.5"/>
<circle cx="1153.6" cy="985.9" r="9.5"/>
<circle cx="1219.3" cy="1017.3" r="9.5"/>
<circle cx="1260.0" cy="1048.7" r="9.5"/>
<circle cx="1304.6" cy="1065.1" r="9.5"/>
<circle cx="1206.1" cy="1102.3" r="9.5"/>
<circle cx="1245.0" cy="1129.9" r="9.5"/>
<circle cx="1487.6" cy="974.4" r="9.5"/>
<circle cx="1600.0" cy="978.7" r="9.5"/>
<circle cx="1606.4" cy="974.4" r="9.5"/>
<circle cx="1541.0" cy="1006.3" r="9.5"/>
<circle cx="1631.4" cy="1013.4" r="9.5"/>
<circle cx="1564.6" cy="1043.4" r="9.5"/>
<circle cx="1710.7" cy="1029.4" r="9.5"/>
<circle cx="1679.3" cy="1034.0" r="9.5"/>
<circle cx="1692.1" cy="1055.1" r="9.5"/>
<circle cx="1577.9" cy="1069.4" r="9.5"/>
<circle cx="1576.7" cy="1117.3" r="9.5"/>
<circle cx="1602.1" cy="1140.9" r="9.5"/>
<circle cx="831.4" cy="447.4" r="9.5"/>
<circle cx="831.9" cy="463.1" r="9.5"/>
<circle cx="1119.3" cy="470.6" r="9.5"/>
<circle cx="1166.4" cy="456.0" r="9.5"/>
<circle cx="1437.6" cy="240.7" r="9.5"/>
<circle cx="1502.9" cy="256.4" r="9.5"/>
<circle cx="1545.0" cy="262.9" r="9.5"/>
<circle cx="1538.3" cy="310.7" r="9.5"/>
<circle cx="1544.3" cy="324.3" r="9.5"/>
<circle cx="344.7" cy="968.6" r="9.5"/>
<circle cx="864.6" cy="1155.3" r="9.5"/>
<circle cx="1061.9" cy="1145.1" r="9.5"/>
<circle cx="1077.1" cy="1152.0" r="9.5"/>
<circle cx="1133.6" cy="1194.9" r="9.5"/>
<circle cx="1155.4" cy="1144.1" r="9.5"/>
<circle cx="1156.1" cy="1206.3" r="9.5"/>
</g>
<g fill="#ec5860">
<circle cx="589.6" cy="577.9" r="9.5"/>
<circle cx="601.7" cy="593.1" r="9.5"/>
<circle cx="602.1" cy="608.9" r="9.5"/>
<circle cx="609.3" cy="645.0" r="9.5"/>
<circle cx="1080.7" cy="597.1" r="9.5"/>
<circle cx="844.3" cy="689.3" r="9.5"/>
<circle cx="1233.6" cy="534.3" r="9.5"/>
<circle cx="1398.9" cy="624.0" r="9.5"/>
<circle cx="1423.6" cy="622.1" r="9.5"/>
<circle cx="1491.0" cy="609.3" r="9.5"/>
<circle cx="1110.0" cy="924.7" r="9.5"/>
<circle cx="1143.1" cy="767.1" r="9.5"/>
<circle cx="1349.6" cy="839.0" r="9.5"/>
<circle cx="1252.6" cy="863.0" r="9.5"/>
<circle cx="1278.6" cy="863.0" r="9.5"/>
<circle cx="1368.6" cy="869.7" r="9.5"/>
<circle cx="1382.9" cy="869.7" r="9.5"/>
<circle cx="1595.0" cy="822.1" r="9.5"/>
<circle cx="1609.6" cy="835.4" r="9.5"/>
<circle cx="1517.4" cy="895.4" r="9.5"/>
<circle cx="1550.4" cy="905.1" r="9.5"/>
<circle cx="1505.4" cy="921.4" r="9.5"/>
<circle cx="1575.0" cy="922.9" r="9.5"/>
<circle cx="626.1" cy="962.6" r="9.5"/>
<circle cx="681.0" cy="961.9" r="9.5"/>
<circle cx="682.1" cy="971.6" r="9.5"/>
<circle cx="662.9" cy="990.6" r="9.5"/>
<circle cx="693.6" cy="1044.4" r="9.5"/>
<circle cx="687.1" cy="1061.6" r="9.5"/>
<circle cx="728.6" cy="1077.3" r="9.5"/>
<circle cx="880.0" cy="934.4" r="9.5"/>
<circle cx="1007.4" cy="1023.3" r="9.5"/>
<circle cx="1064.0" cy="1090.9" r="9.5"/>
<circle cx="1127.4" cy="1125.4" r="9.5"/>
<circle cx="1178.6" cy="987.7" r="9.5"/>
<circle cx="1249.6" cy="1056.6" r="9.5"/>
<circle cx="1538.3" cy="974.4" r="9.5"/>
<circle cx="1587.1" cy="967.3" r="9.5"/>
<circle cx="1666.4" cy="969.9" r="9.5"/>
<circle cx="1623.6" cy="1031.6" r="9.5"/>
<circle cx="1538.3" cy="1088.3" r="9.5"/>
<circle cx="821.4" cy="444.6" r="9.5"/>
<circle cx="846.9" cy="416.7" r="9.5"/>
<circle cx="1212.6" cy="418.9" r="9.5"/>
<circle cx="1210.0" cy="456.7" r="9.5"/>
<circle cx="1567.1" cy="223.6" r="9.5"/>
<circle cx="1556.4" cy="235.7" r="9.5"/>
<circle cx="358.1" cy="975.7" r="9.5"/>
<circle cx="942.6" cy="1156.3" r="9.5"/>
<circle cx="895.7" cy="1175.9" r="9.5"/>
<circle cx="1040.7" cy="1205.6" r="9.5"/>
<circle cx="1111.9" cy="1152.0" r="9.5"/>
</g>
<g fill="#f9795d">
<circle cx="901.1" cy="590.3" r="9.5"/>
<circle cx="1254.3" cy="526.4" r="9.5"/>
<circle cx="1284.3" cy="661.7" r="9.5"/>
<circle cx="1429.6" cy="631.4" r="9.5"/>
<circle cx="1478.3" cy="540.4" r="9.5"/>
<circle cx="579.3" cy="916.9" r="9.5"/>
<circle cx="983.6" cy="823.3" r="9.5"/>
<circle cx="1571.4" cy="871.1" r="9.5"/>
<circle cx="1642.1" cy="920.0" r="9.5"/>
<circle cx="675.4" cy="986.6" r="9.5"/>
<circle cx="1527.6" cy="991.6" r="9.5"/>
<circle cx="1571.7" cy="1092.3" r="9.5"/>
<circle cx="841.1" cy="396.4" r="9.5"/>
<circle cx="916.1" cy="454.9" r="9.5"/>
<circle cx="1421.0" cy="229.7" r="9.5"/>
<circle cx="1530.3" cy="221.1" r="9.5"/>
<circle cx="1557.4" cy="228.6" r="9.5"/>
<circle cx="1495.7" cy="277.1" r="9.5"/>
</g>
<g fill="#fd9a69">
<circle cx="629.3" cy="571.1" r="9.5"/>
<circle cx="940.7" cy="607.9" r="9.5"/>
<circle cx="1163.6" cy="524.6" r="9.5"/>
<circle cx="1217.9" cy="604.3" r="9.5"/>
<circle cx="1317.1" cy="768.7" r="9.5"/>
<circle cx="1661.1" cy="905.1" r="9.5"/>
<circle cx="1666.0" cy="908.6" r="9.5"/>
<circle cx="686.9" cy="1022.0" r="9.5"/>
<circle cx="1242.4" cy="935.1" r="9.5"/>
<circle cx="1656.9" cy="1008.0" r="9.5"/>
<circle cx="1477.9" cy="228.9" r="9.5"/>
<circle cx="1538.6" cy="253.1" r="9.5"/>
</g>
<g fill="#feb078">
<circle cx="679.7" cy="591.0" r="9.5"/>
<circle cx="1384.3" cy="880.4" r="9.5"/>
<circle cx="1484.6" cy="247.6" r="9.5"/>
<circle cx="1566.4" cy="257.1" r="9.5"/>
</g>
<g fill="#fed99b">
<circle cx="866.4" cy="415.3" r="9.5"/>
</g>
<g fill="#fdebac">
<circle cx="1621.1" cy="884.7" r="9.5"/>
</g>
<g fill="#fcfdbf">
<circle cx="1456.9" cy="671.1" r="9.5"/>
</g>
<g stroke="#000" stroke-width="4.6" fill="none">
<path d="M236.5 142.7V1304.8"/>
<path d="M234.2 1302.5H1829"/>
<path d="M221.8 250.3H236.5M221.8 513.4H236.5M221.8 776.4H236.5M221.8 1302.5H236.5"/>
<path d="M221.8 1039.5H236.5"/>
<path d="M531.2 1302.5V1317M975.6 1302.5V1317M1420 1302.5V1317"/>
</g>
<g font-size="50" text-anchor="end">
<text x="208.8" y="268.6">7.5</text>
<text x="208.8" y="531.7">5.0</text>
<text x="208.8" y="794.7">2.5</text>
<text x="208.8" y="1057.8">0.0</text>
<text x="208.8" y="1321.2">-2.5</text>
</g>
<g font-size="50" text-anchor="middle">
<text x="531" y="1365.7">0</text>
<text x="975.5" y="1365.7">4</text>
<text x="1420" y="1365.7">8</text>
</g>
<text x="916.8" y="1435" font-size="62.5" textLength="229.8" lengthAdjust="spacingAndGlyphs">UMAP_1</text>
<text transform="translate(95.2,840) rotate(-90)" font-size="62.5" textLength="233.8" lengthAdjust="spacingAndGlyphs">UMAP_2</text>
<rect x="1885" y="578.4" width="63.8" height="318.7" fill="url(#mg)"/>
<g stroke="#fff" stroke-width="1.6">
<path d="M1885 897H1897.8M1936 897H1948.8"/>
<path d="M1885 833.6H1897.8M1936 833.6H1948.8"/>
<path d="M1885 769.4H1897.8M1936 769.4H1948.8"/>
<path d="M1885 705.3H1897.8M1936 705.3H1948.8"/>
<path d="M1885 640.6H1897.8M1936 640.6H1948.8"/>
</g>
<g font-size="50">
<text x="1977" y="659.4">2.0</text>
<text x="1977" y="724.2">1.5</text>
<text x="1977" y="788.4">1.0</text>
<text x="1977" y="852.6">0.5</text>
<text x="1977" y="916.4">0.0</text>
</g>
</svg>
</body></html>
